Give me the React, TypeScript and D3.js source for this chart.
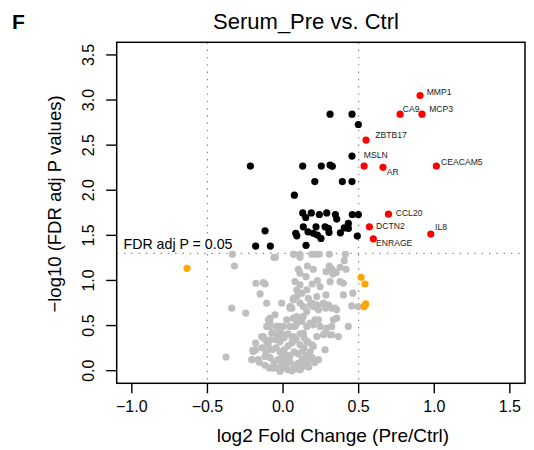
import React from 'react';
import * as d3 from 'd3';

// log2FC, -log10(FDR)
const grayPoints: [number, number][] = [
  [-0.335, 1.29], [-0.06, 1.256], [0.068, 1.29], [0.075, 1.29], [0.112, 1.256], [0.112, 1.29],
  [0.19, 1.29], [0.21, 1.29], [0.24, 1.29], [0.306, 1.29], [0.412, 1.29],
  [-0.051, 1.256], [-0.322, 1.16], [0.161, 1.16], [0.101, 1.124], [0.2, 1.124], [0.324, 1.124],
  [0.405, 1.219], [0.351, 1.086], [0.284, 1.097], [0.112, 1.08], [0.152, 1.042],
  [0.377, 1.146], [0.417, 1.124], [0.329, 1.072], [0.306, 1.16],
  [-0.179, 0.969], [-0.13, 0.976], [-0.119, 0.961], [-0.152, 0.851], [-0.108, 0.748],
  [-0.339, 0.693], [-0.247, 0.638],
  [0.079, 0.988], [0.112, 0.95], [0.091, 0.895], [0.124, 0.859], [0.157, 0.895], [0.192, 0.961],
  [0.227, 0.998], [0.245, 0.932], [0.311, 0.987], [0.284, 0.84], [0.223, 0.821], [0.167, 0.803],
  [0.068, 0.803], [0.112, 0.748], [0.179, 0.729], [0.3, 0.729], [0.399, 0.969], [0.399, 0.84],
  [0.461, 0.859], [0.046, 0.711], [0.231, 0.711], [0.282, 0.693], [0.377, 0.987],
  [0.498, 0.711], [0.454, 0.718], [0.432, 0.49], [0.322, 0.693], [0.355, 0.674],
  [0.333, 0.564], [0.355, 0.582], [0.289, 0.472], [0.322, 0.49],
  [0.223, 0.379], [0.267, 0.398], [0.311, 0.398],
  [0.234, 0.564], [0.2, 0.508], [0.157, 0.49], [0.124, 0.564], [0.079, 0.49], [0.068, 0.582],
  [0.267, 0.748], [0.2, 0.741], [0.134, 0.711], [0.046, 0.693], [0.068, 0.785],
  [-0.053, 0.619], [-0.086, 0.49], [-0.042, 0.49], [0.002, 0.49],
  [-0.075, 0.417], [-0.13, 0.379], [-0.031, 0.379],
  [-0.181, 0.306], [-0.196, 0.213], [-0.207, 0.122], [-0.119, 0.158], [-0.163, 0.122],
  [-0.377, 0.151],
  [-0.097, 0.564], [-0.086, 0.527], [-0.024, 0.49], [-0.02, 0.398], [0.046, 0.49], [0.058, 0.693],
  [0.091, 0.6], [0.124, 0.545], [0.157, 0.655], [0.19, 0.748], [0.212, 0.564], [0.234, 0.674],
  [0.223, 0.729], [0.245, 0.49], [0.278, 0.417], [0.278, 0.232], [0.322, 0.398], [0.344, 0.693],
  [0.366, 0.379], [-0.13, 0.361], [-0.108, 0.324], [-0.2, 0.224], [-0.203, 0.122], [-0.157, 0.092],
  [-0.099, 0.287], [-0.073, 0.232], [-0.046, 0.254], [-0.02, 0.21], [0.007, 0.232], [0.033, 0.276],
  [0.06, 0.309], [0.086, 0.343], [0.112, 0.287], [0.139, 0.254], [0.165, 0.32], [0.192, 0.287],
  [-0.086, 0.144], [-0.06, 0.099], [-0.033, 0.122], [-0.007, 0.077], [0.02, 0.055], [0.046, 0.099],
  [0.073, 0.055], [0.099, 0.077], [0.126, 0.122], [0.152, 0.166], [0.179, 0.21],
  [-0.046, 0.033], [-0.02, 0.011], [0.007, 0.033], [0.033, 0.011], [0.06, 0.0], [0.086, 0.022],
  [0.112, 0.011], [0.139, 0.055], [0.165, 0.099], [0.192, 0.144],
  [0.046, 0.166], [0.073, 0.21], [0.02, 0.166], [-0.007, 0.144], [0.099, 0.188], [0.126, 0.21],
  [0.152, 0.055], [-0.02, 0.32], [-0.046, 0.343], [0.007, 0.365], [0.033, 0.409], [0.06, 0.365],
  [0.112, 0.409], [0.139, 0.365], [-0.139, 0.254], [-0.112, 0.21], [0.112, 0.085], [0.19, 0.122],
  [-0.181, 0.232], [-0.064, 0.029], [-0.02, -0.008], [0.157, 0.122], [0.234, 0.122], [0.2, 0.269],
  [0.157, 0.324], [0.134, 0.417], [0.068, 0.379], [0.002, 0.398], [-0.064, 0.417], [-0.086, 0.343],
  [-0.141, 0.379], [-0.108, 0.49], [-0.02, 0.453], [0.024, 0.564], [0.091, 0.527], [0.134, 0.6],
  [0.179, 0.527], [0.2, 0.711], [0.091, 0.821], [-0.009, 0.748], [-0.086, 0.582],
  [-0.119, 0.06], [-0.09, 0.03], [0.0, 0.09], [0.03, 0.13], [0.12, 0.03], [0.17, 0.04], [0.21, 0.09],
];

const blackPoints: [number, number][] = [
  [0.311, 2.843], [0.456, 2.843], [0.498, 2.729], [0.456, 2.379], [-0.216, 2.268], [0.13, 2.268],
  [0.253, 2.268], [0.311, 2.28], [0.326, 2.265], [0.21, 2.096], [0.392, 2.096], [0.456, 2.096],
  [0.075, 1.945], [0.13, 1.749], [0.187, 1.749], [0.24, 1.731], [0.289, 1.749], [0.346, 1.731],
  [0.355, 1.68], [0.458, 1.731], [0.498, 1.731], [0.134, 1.594], [0.165, 1.539], [0.2, 1.522],
  [0.218, 1.594], [0.227, 1.503], [0.251, 1.466], [0.278, 1.594], [0.3, 1.577], [0.304, 1.533],
  [0.379, 1.528], [0.405, 1.583], [0.432, 1.632], [0.432, 1.577], [0.491, 1.492], [0.152, 1.389],
  [0.084, 1.522], [0.091, 1.495], [-0.119, 1.55], [-0.181, 1.381], [-0.084, 1.381], [0.15, 1.698],
];

const orangePoints: [number, number][] = [
  [-0.635, 1.135], [0.516, 1.035], [0.542, 0.961], [0.547, 0.74], [0.536, 0.71],
];

const redGenes = ['MMP1', 'CA9', 'MCP3', 'ZBTB17', 'MSLN', 'AR', 'CEACAM5', 'CCL20', 'DCTN2', 'ENRAGE', 'IL8'];
const redX = [0.906, 0.774, 0.919, 0.549, 0.536, 0.661, 1.014, 0.697, 0.571, 0.597, 0.977];
const redY = [3.05, 2.843, 2.843, 2.556, 2.268, 2.254, 2.268, 1.735, 1.595, 1.462, 1.514];
// label anchors (data units)
const labelX = [0.95, 0.792, 0.966, 0.61, 0.534, 0.686, 1.045, 0.745, 0.615, 0.615, 1.005];
const labelY = [3.086, 2.903, 2.903, 2.608, 2.387, 2.202, 2.309, 1.743, 1.599, 1.418, 1.591];

const xTicks = [-1.0, -0.5, 0.0, 0.5, 1.0, 1.5];
const yTicks = [0.0, 0.5, 1.0, 1.5, 2.0, 2.5, 3.0, 3.5];
const fcCut = [-0.5, 0.5];
const fdrCut = -Math.log10(0.05);

const FONT = '"Liberation Sans", Arial, Helvetica, sans-serif';

export default function App() {
  const left = 116.7, right = 525, top = 42.3, bottom = 383.3;
  const x = d3.scaleLinear().domain([-1.1, 1.6]).range([left, right]);
  const y = d3.scaleLinear().domain([-0.14, 3.64]).range([bottom, top]);
  const r = 3.6;
  const fmt = d3.format('.1f');
  const lab = (v: number) => fmt(v).replace('-', '\u2212');

  return (
    <svg width={534} height={450} style={{ position: 'absolute', left: 0, top: 0, background: '#fff' }}
      fontFamily={FONT}>
      <text x={12} y={28.5} fontSize={21} fontWeight="bold">F</text>
      <text x={306} y={29} fontSize={22} textAnchor="middle">Serum_Pre vs. Ctrl</text>

      {fcCut.map((v) => (
        <line key={v} x1={x(v)} x2={x(v)} y1={top} y2={bottom} stroke="#8a8a8a" strokeWidth={1.2}
          strokeDasharray="1.4,5.9" />
      ))}
      <line x1={left} x2={right} y1={y(fdrCut)} y2={y(fdrCut)} stroke="#8a8a8a" strokeWidth={1.2}
        strokeDasharray="1.4,5.9" />

      {grayPoints.map((d, i) => (
        <circle key={'g' + i} cx={x(d[0])} cy={y(d[1])} r={r} fill="#bebebe" />
      ))}
      {blackPoints.map((d, i) => (
        <circle key={'b' + i} cx={x(d[0])} cy={y(d[1])} r={r} fill="#000" />
      ))}
      {orangePoints.map((d, i) => (
        <circle key={'o' + i} cx={x(d[0])} cy={y(d[1])} r={r} fill="#ffa500" />
      ))}
      {redGenes.map((g, i) => (
        <circle key={'r' + g} cx={x(redX[i])} cy={y(redY[i])} r={r} fill="#ff0000" />
      ))}
      {redGenes.map((g, i) => (
        <text key={'l' + g} x={x(labelX[i])} y={y(labelY[i])} fontSize={8.6} fill="#222"
          dominantBaseline="central">{g}</text>
      ))}

      <text x={123.5} y={248.5} fontSize={14.2}>FDR adj P = 0.05</text>

      <rect x={left} y={top} width={right - left} height={bottom - top} fill="none" stroke="#000" strokeWidth={1.5} />

      {xTicks.map((t) => (
        <g key={'xt' + t}>
          <line x1={x(t)} x2={x(t)} y1={bottom} y2={bottom + 10} stroke="#000" strokeWidth={1.4} />
          <text x={x(t)} y={411.7} fontSize={16} textAnchor="middle">{lab(t)}</text>
        </g>
      ))}
      {yTicks.map((t) => (
        <g key={'yt' + t}>
          <line x1={left} x2={left - 10.5} y1={y(t)} y2={y(t)} stroke="#000" strokeWidth={1.4} />
          <text transform={`translate(93.5,${y(t)}) rotate(-90)`} fontSize={16} textAnchor="middle">{lab(t)}</text>
        </g>
      ))}

      <text x={333} y={441.7} fontSize={19} textAnchor="middle">log2 Fold Change (Pre/Ctrl)</text>
      <text transform={`translate(60.5,204) rotate(-90)`} fontSize={18.5} textAnchor="middle">
        {'\u2212log10 (FDR adj P values)'}
      </text>
    </svg>
  );
}
